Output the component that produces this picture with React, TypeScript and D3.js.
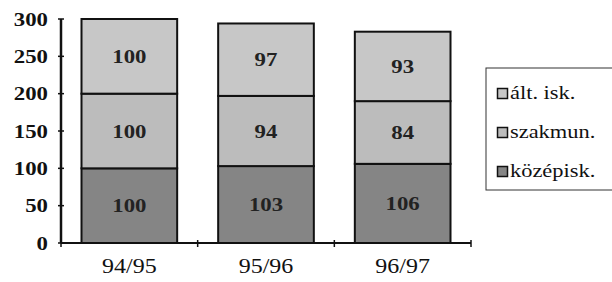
import React from "react";
import * as d3 from "d3";

const categories = ["94/95", "95/96", "96/97"];
const seriesNames = ["középisk.", "szakmun.", "ált. isk."];
const kozepisk = [100, 103, 106];
const szakmun = [100, 94, 84];
const altIsk = [100, 97, 93];
const yTicks = [0, 50, 100, 150, 200, 250, 300];
const colors = ["#858585", "#bcbcbc", "#c7c7c7"];

const W = 612;
const H = 282;
const SX = 1.2;
const FONT = "'Liberation Serif', 'Times New Roman', serif";

export default function App() {
  const x = d3.scaleBand<string>().domain(categories).range([61, 471]).paddingInner(0.3).paddingOuter(0.15);
  const y = d3.scaleLinear().domain([0, 300]).range([243, 19]);
  const seriesData = [kozepisk, szakmun, altIsk];
  const rows = categories.map((c, i) => {
    const r: any = { cat: c };
    seriesNames.forEach((s, k) => (r[s] = seriesData[k][i]));
    return r;
  });
  const stacked = d3.stack<any>().keys(seriesNames)(rows);
  const step = x.step();
  const boundaries = [0, 1, 2, 3].map((i) => 61 + i * step);
  const legendOrder = [2, 1, 0];

  return (
    <svg width={W} height={H} style={{ position: "absolute", left: 0, top: 0, background: "#fff" }}>
      {stacked.map((layer, k) =>
        layer.map((d, i) => (
          <g key={`${k}-${i}`}>
            <rect
              x={x(categories[i])!}
              y={y(d[1])}
              width={x.bandwidth()}
              height={y(d[0]) - y(d[1])}
              fill={colors[k]}
              stroke="#111"
              strokeWidth={2}
            />
            <text
              transform={`translate(${x(categories[i])! + x.bandwidth() / 2},${(y(d[0]) + y(d[1])) / 2 + 6.5}) scale(${SX},1)`}
              textAnchor="middle"
              fontFamily={FONT}
              fontWeight="bold"
              fontSize={19}
              fill="#222"
            >
              {seriesData[k][i]}
            </text>
          </g>
        ))
      )}
      {/* y axis */}
      <line x1={61} x2={61} y1={y(300)} y2={y(0)} stroke="#111" strokeWidth={2.5} />
      {yTicks.map((t) => (
        <g key={t}>
          <line x1={58} x2={64} y1={y(t)} y2={y(t)} stroke="#111" strokeWidth={1.5} />
          <text
            transform={`translate(48,${y(t) + 6.5}) scale(${SX},1)`}
            textAnchor="end"
            fontFamily={FONT}
            fontWeight="bold"
            fontSize={19}
            fill="#111"
          >
            {t}
          </text>
        </g>
      ))}
      {/* x axis */}
      <line x1={61} x2={boundaries[3]} y1={y(0)} y2={y(0)} stroke="#111" strokeWidth={2} />
      {boundaries.map((b, i) => (
        <line key={i} x1={b} x2={b} y1={y(0) - 3} y2={y(0) + 4} stroke="#111" strokeWidth={1.5} />
      ))}
      {categories.map((c) => (
        <text
          key={c}
          transform={`translate(${x(c)! + x.bandwidth() / 2},${273}) scale(${SX},1)`}
          textAnchor="middle"
          fontFamily={FONT}
          fontSize={20}
          fill="#111"
        >
          {c}
        </text>
      ))}
      {/* legend */}
      <rect x={486} y={68} width={180} height={122} fill="#fff" stroke="#333" strokeWidth={1} />
      {legendOrder.map((k, j) => {
        const cy = 94 + j * 39;
        return (
          <g key={k}>
            <rect x={497.5} y={cy - 5.5} width={10} height={10} fill={colors[k]} stroke="#111" strokeWidth={1.5} />
            <text
              transform={`translate(510,${cy + 5}) scale(1.18,1)`}
              fontFamily={FONT}
              fontSize={19}
              fill="#111"
            >
              {seriesNames[k]}
            </text>
          </g>
        );
      })}
    </svg>
  );
}
